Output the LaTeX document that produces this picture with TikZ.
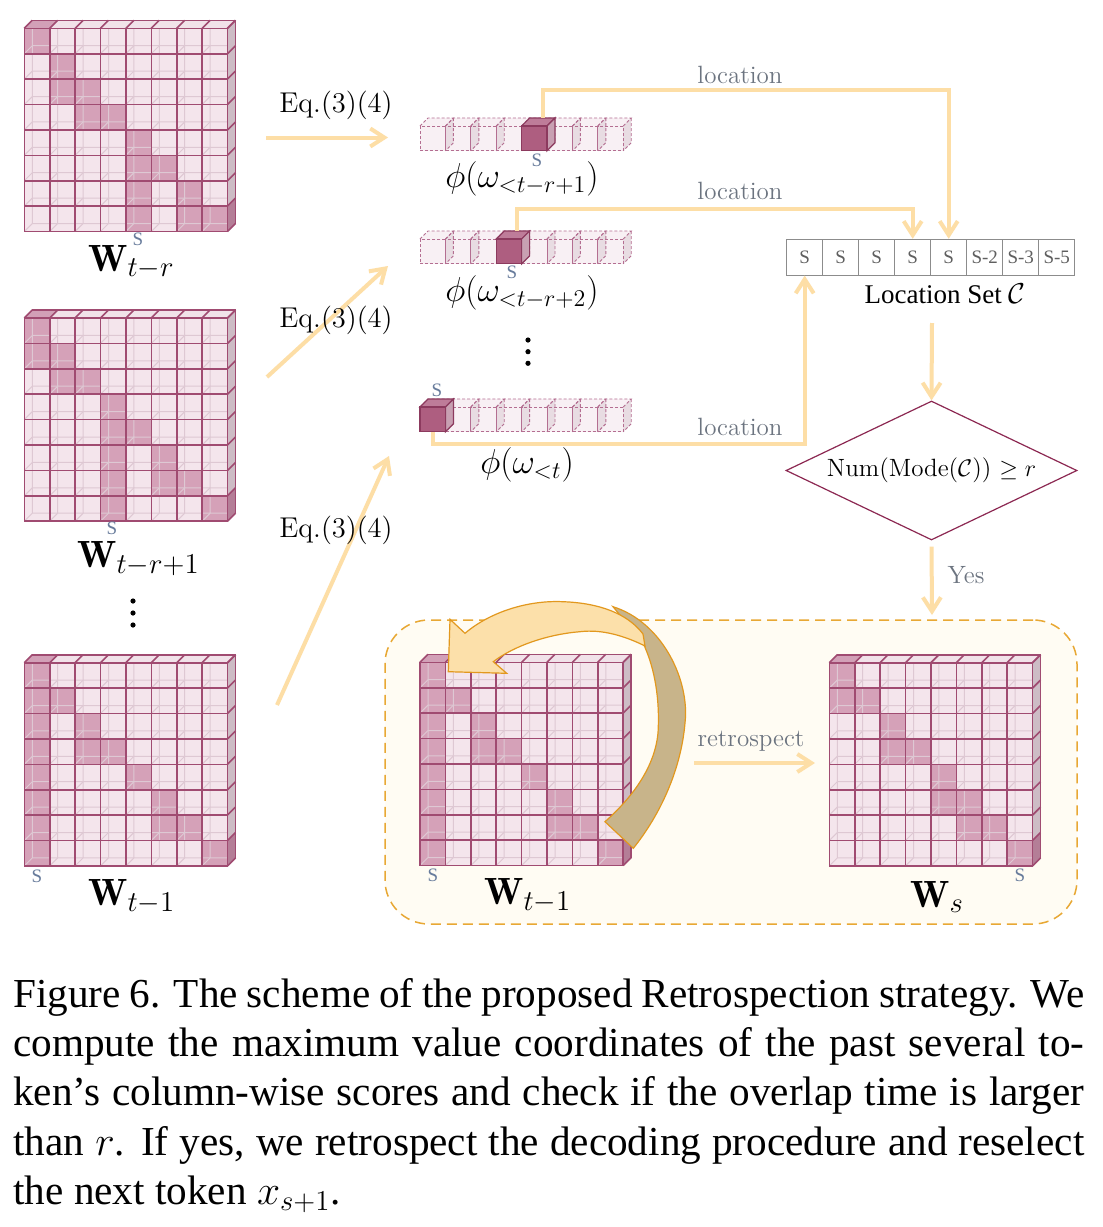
\documentclass[tikz,border=0pt]{standalone}
\usepackage{fontspec}
\newfontfamily\capfont{Liberation Serif}
\usetikzlibrary{arrows.meta,shapes.geometric}

\definecolor{cellL}{RGB}{244,229,236}
\definecolor{cellD}{RGB}{213,161,184}
\definecolor{cellE}{RGB}{160,75,113}
\definecolor{topL}{RGB}{241,226,233}
\definecolor{topD}{RGB}{210,160,183}
\definecolor{sideL}{RGB}{205,188,197}
\definecolor{sideD}{RGB}{180,126,151}
\definecolor{backE}{RGB}{222,200,211}
\definecolor{vecL}{RGB}{248,240,244}
\definecolor{vecS}{RGB}{232,220,226}
\definecolor{vecE}{RGB}{180,110,145}
\definecolor{hiF}{RGB}{174,94,128}
\definecolor{hiT}{RGB}{190,124,153}
\definecolor{hiS}{RGB}{200,160,178}
\definecolor{hiE}{RGB}{140,58,94}
\definecolor{peach}{RGB}{253,222,166}
\definecolor{labgray}{RGB}{108,116,128}
\definecolor{sblue}{RGB}{104,124,156}
\definecolor{setgray}{RGB}{140,140,140}
\definecolor{settext}{RGB}{95,95,95}
\definecolor{diaE}{RGB}{140,40,82}
\definecolor{boxE}{RGB}{232,168,52}
\definecolor{boxF}{RGB}{255,252,243}
\definecolor{arrL}{RGB}{252,224,170}
\definecolor{arrT}{RGB}{200,180,138}
\definecolor{arrE}{RGB}{226,152,30}

\def\cs{25.4}
\def\dd{8}
\def\vh{24.8}

\tikzset{
 cubeedge/.style={draw=cellE, line width=0.8pt},
 backline/.style={draw=backE, line width=0.5pt},
 vecedge/.style={draw=vecE, line width=0.45pt, dash pattern=on 1.5pt off 1pt},
 hiedge/.style={draw=hiE, line width=0.6pt},
 peachline/.style={draw=peach, line width=2pt},
 peacharrow/.style={peachline, -{Straight Barb[length=7pt,width=9pt]}},
 graylab/.style={text=labgray, font=\fontsize{12.5}{14}\selectfont, inner sep=0, anchor=base},
 eqlab/.style={font=\fontsize{14.3}{16}\selectfont, inner sep=0, anchor=base},
 wlab/.style={font=\fontsize{19}{21}\selectfont, inner sep=0, anchor=base west},
 phlab/.style={font=\fontsize{18}{20}\selectfont, inner sep=0, anchor=base west},
 slab/.style={text=sblue, font=\capfont\fontsize{9.5}{10}\selectfont, inner sep=0},
 setcell/.style={draw=setgray, line width=0.55pt, fill=white, minimum width=18pt, minimum height=17.85pt, inner sep=0, text=settext, font=\capfont\fontsize{9.5}{10}\selectfont},
 capline/.style={font=\capfont\fontsize{20.6}{24}\selectfont, inner sep=0, anchor=base west},
 bigdot/.style={fill=black},
}

\newcommand{\cubematrix}[3]{%
\begin{scope}[shift={(#1,#2)}]
 \foreach \ri in {0,...,7}{\foreach \ci in {0,...,7}{
   \fill[cellL] (\ci*\cs,\ri*\cs) rectangle ++(\cs,\cs);}}
 \foreach \ri/\ci in {#3}{\fill[cellD] (\ci*\cs,\ri*\cs) rectangle ++(\cs,\cs);}
 \foreach \ri in {0,...,7}{\foreach \ci in {0,...,7}{
   \draw[backline] (\ci*\cs,\ri*\cs+\cs) -- ++(\dd,-\dd) -- ++(0,-\cs)
     (\ci*\cs+\dd,\ri*\cs+\cs-\dd) -- ++(\cs,0);}}
 \foreach \ci in {0,...,7}{\fill[topL] (\ci*\cs,0) -- ++(\dd,-\dd) -- ++(\cs,0) -- ++(-\dd,\dd) -- cycle;}
 \foreach \ri in {0,...,7}{\fill[sideL] (8*\cs,\ri*\cs) -- ++(\dd,-\dd) -- ++(0,\cs) -- ++(-\dd,\dd) -- cycle;}
 \foreach \ri/\ci in {#3}{%
   \ifnum\ri=0 \fill[topD] (\ci*\cs,0) -- ++(\dd,-\dd) -- ++(\cs,0) -- ++(-\dd,\dd) -- cycle;\fi
   \ifnum\ci=7 \fill[sideD] (8*\cs,\ri*\cs) -- ++(\dd,-\dd) -- ++(0,\cs) -- ++(-\dd,\dd) -- cycle;\fi}
 \foreach \k in {0,...,8}{
   \draw[cubeedge] (\k*\cs,0) -- ++(0,8*\cs);
   \draw[cubeedge] (0,\k*\cs) -- ++(8*\cs,0);
   \draw[cubeedge] (\k*\cs,0) -- ++(\dd,-\dd);
   \draw[cubeedge] (8*\cs,\k*\cs) -- ++(\dd,-\dd);}
 \draw[cubeedge] (\dd,-\dd) -- ++(8*\cs,0) -- ++(0,8*\cs);
\end{scope}}

\newcommand{\cubevector}[3]{%
\begin{scope}[shift={(#1,#2)}]
 \foreach \ci in {0,...,7}{\fill[vecL] (\ci*\cs,0) rectangle ++(\cs,\vh);
   \fill[vecL] (\ci*\cs,0) -- ++(\dd,-\dd) -- ++(\cs,0) -- ++(-\dd,\dd) -- cycle;}
 \foreach \ci in {0,...,7}{\fill[vecS] (\ci*\cs+\cs,0) -- ++(\dd,-\dd) -- ++(0,\vh) -- ++(-\dd,\dd) -- cycle;}
 \foreach \ci in {0,...,7}{
   \draw[vecedge] (\ci*\cs,0) rectangle ++(\cs,\vh);
   \draw[vecedge] (\ci*\cs,0) -- ++(\dd,-\dd) -- ++(\cs,0) -- ++(-\dd,\dd);
   \draw[vecedge] (\ci*\cs+\cs+\dd,-\dd) -- ++(0,\vh) -- ++(-\dd,\dd);}
 \fill[hiT, hiedge] (#3*\cs,0) -- ++(\dd,-\dd) -- ++(\cs,0) -- ++(-\dd,\dd) -- cycle;
 \fill[hiS, hiedge] (#3*\cs+\cs,0) -- ++(\dd,-\dd) -- ++(0,\vh) -- ++(-\dd,\dd) -- cycle;
 \filldraw[fill=hiF, hiedge] (#3*\cs,0) rectangle ++(\cs,\vh);
\end{scope}}

\begin{document}
\begin{tikzpicture}[x=0.5pt,y=-0.5pt]
\useasboundingbox (0,0) rectangle (1103,1227);
\fill[white] (0,0) rectangle (1103,1227);

% bottom dashed box
\node[draw=boxE, fill=boxF, line width=0.75pt, dash pattern=on 5pt off 3pt,
      rounded corners=22pt, minimum width=346pt, minimum height=152pt, inner sep=0] (box) at (731,772) {};

% matrices
\cubematrix{24.3}{28.3}{0/0,1/1,2/1,2/2,3/2,3/3,4/4,5/4,5/5,6/4,6/6,7/4,7/6,7/7}
\cubematrix{24.3}{318}{0/0,1/0,1/1,2/1,2/2,3/3,4/3,4/4,5/3,5/5,6/3,6/5,6/6,7/3,7/7}
\cubematrix{24.3}{662.7}{0/0,1/0,1/1,2/0,2/2,3/0,3/2,3/3,4/0,4/4,5/0,5/5,6/0,6/5,6/6,7/0,7/7}
\cubematrix{420}{662.3}{0/0,1/0,1/1,2/0,2/2,3/0,3/2,3/3,4/0,4/4,5/0,5/5,6/0,6/5,6/6,7/0,7/7}
\cubematrix{829.3}{662.7}{0/0,1/0,1/1,2/2,3/2,3/3,4/4,5/4,5/5,6/5,6/6,7/7}

% matrix labels
\node[wlab] (w1) at (88,271) {$\mathbf{W}_{t-r}$};
\node[wlab] (w2) at (77,567) {$\mathbf{W}_{t-r+1}$};
\node[wlab] (w3) at (88,905) {$\mathbf{W}_{t-1}$};
\node[wlab] (w4) at (484,904) {$\mathbf{W}_{t-1}$};
\node[wlab] (w5) at (910,907) {$\mathbf{W}_{s}$};
\node[slab] (s1) at (138,239) {S};
\node[slab] (s2) at (112,528) {S};
\node[slab] (s3) at (37,876) {S};
\node[slab] (s4) at (433,875) {S};
\node[slab] (s5) at (1020,875) {S};
\foreach \yy in {601,613,625} \fill[bigdot] (133,\yy) circle[radius=1.3pt];

% vectors
\cubevector{420}{126}{4}
\cubevector{420}{239}{3}
\cubevector{420}{407}{0}
\coordinate (v1top) at (542.7,118);
\coordinate (v2top) at (516.7,231);
\coordinate (v3bot) at (432.7,432);
\node[slab] (vs1) at (537,160) {S};
\node[slab] (vs2) at (512,272) {S};
\node[slab] (vs3) at (437,390) {S};
\node[phlab] (p1) at (445,187) {$\phi(\omega_{<t-r+1})$};
\node[phlab] (p2) at (445,301) {$\phi(\omega_{<t-r+2})$};
\node[phlab] (p3) at (480,473) {$\phi(\omega_{<t})$};
\foreach \yy in {340,351.7,363.3} \fill[bigdot] (528,\yy) circle[radius=1.3pt];

% Eq arrows
\coordinate (e1s) at (266,137.5); \coordinate (e1e) at (388,137.5);
\coordinate (e2s) at (267,377);   \coordinate (e2e) at (388,266);
\coordinate (e3s) at (277,705);   \coordinate (e3e) at (389,456);
\draw[peacharrow] (e1s) -- (e1e);
\draw[peacharrow] (e2s) -- (e2e);
\draw[peacharrow] (e3s) -- (e3e);
\node[eqlab] (eq1) at (336,112) {Eq.(3)(4)};
\node[eqlab] (eq2) at (336,327) {Eq.(3)(4)};
\node[eqlab] (eq3) at (336,537) {Eq.(3)(4)};

% location set
\foreach \i/\t in {0/S,1/S,2/S,3/S,4/S,5/S-2,6/S-3,7/S-5}
  \node[setcell] (ls\i) at (804.7+36*\i,257.2) {\t};
\node[font=\capfont\fontsize{13.5}{15}\selectfont, inner sep=0, anchor=base] (lslab) at (945,303) {Location Set $\mathcal{C}$};

% location connectors
\draw[peacharrow] (v1top) -- ++(0,-28) -| (ls4.north);
\draw[peacharrow] (v2top) -- ++(0,-22) -| (ls3.north);
\draw[peacharrow] (v3bot) -- ++(0,12) -| (ls0.south);
\node[graylab] (loc1) at (740,83) {location};
\node[graylab] (loc2) at (740,199) {location};
\node[graylab] (loc3) at (740,435) {location};

% diamond
\node[draw=diaE, line width=0.6pt, diamond, aspect=2.1, inner sep=0,
      minimum width=145.5pt, minimum height=69.5pt, font=\fontsize{12.5}{14}\selectfont] (dia) at (931.5,470.5)
      {Num(Mode($\mathcal{C}$)) $\geq r$};
\coordinate (ls2d) at (932,323);
\draw[peacharrow] (ls2d) -- (dia.north);
\coordinate (boxin) at (932,615);
\draw[peacharrow, shorten <=3pt] (dia.south) -- (boxin);
\node[graylab] (yes) at (966,583) {Yes};

% retrospect
\coordinate (m4e) at (694,763); \coordinate (m5w) at (815,763);
\draw[peacharrow] (m4e) -- (m5w);
\node[graylab] (retro) at (751,746) {retrospect};

% curved arrow
\filldraw[fill=arrT, draw=arrE, line width=0.6pt]
  (613,606.7) .. controls (662,622) and (690,680) .. (685,723)
  .. controls (681,770) and (660,815) .. (633.3,848.3) -- (605,821.7)
  .. controls (635,795) and (655,765) .. (658,733)
  .. controls (660,700) and (655,668) .. (643,643) -- cycle;
\filldraw[fill=arrL, draw=arrE, line width=0.6pt]
  (465,633.3) .. controls (490,612) and (528,600) .. (563,601.7)
  .. controls (600,603) and (628,614) .. (643,634) -- (645,646)
  .. controls (625,636) and (602,629) .. (580,631.7)
  .. controls (550,634) and (515,645) .. (493.3,661.7)
  -- (506.7,673.3) -- (448.3,671.7) -- (450,619.3) -- cycle;

% caption
\node[capline] (c1) at (13,1007) {\makebox[535.5pt][s]{Figure 6. The scheme of the proposed Retrospection strategy. We}};
\node[capline] (c2) at (13,1056) {\makebox[535.5pt][s]{compute the maximum value coordinates of the past several to-}};
\node[capline] (c3) at (13,1105) {\makebox[535.5pt][s]{ken’s column-wise scores and check if the overlap time is larger}};
\node[capline] (c4) at (13,1155) {\makebox[535.5pt][s]{than $r$. If yes, we retrospect the decoding procedure and reselect}};
\node[capline] (c5) at (13,1204) {the next token $x_{s+1}$.};
\end{tikzpicture}
\end{document}
